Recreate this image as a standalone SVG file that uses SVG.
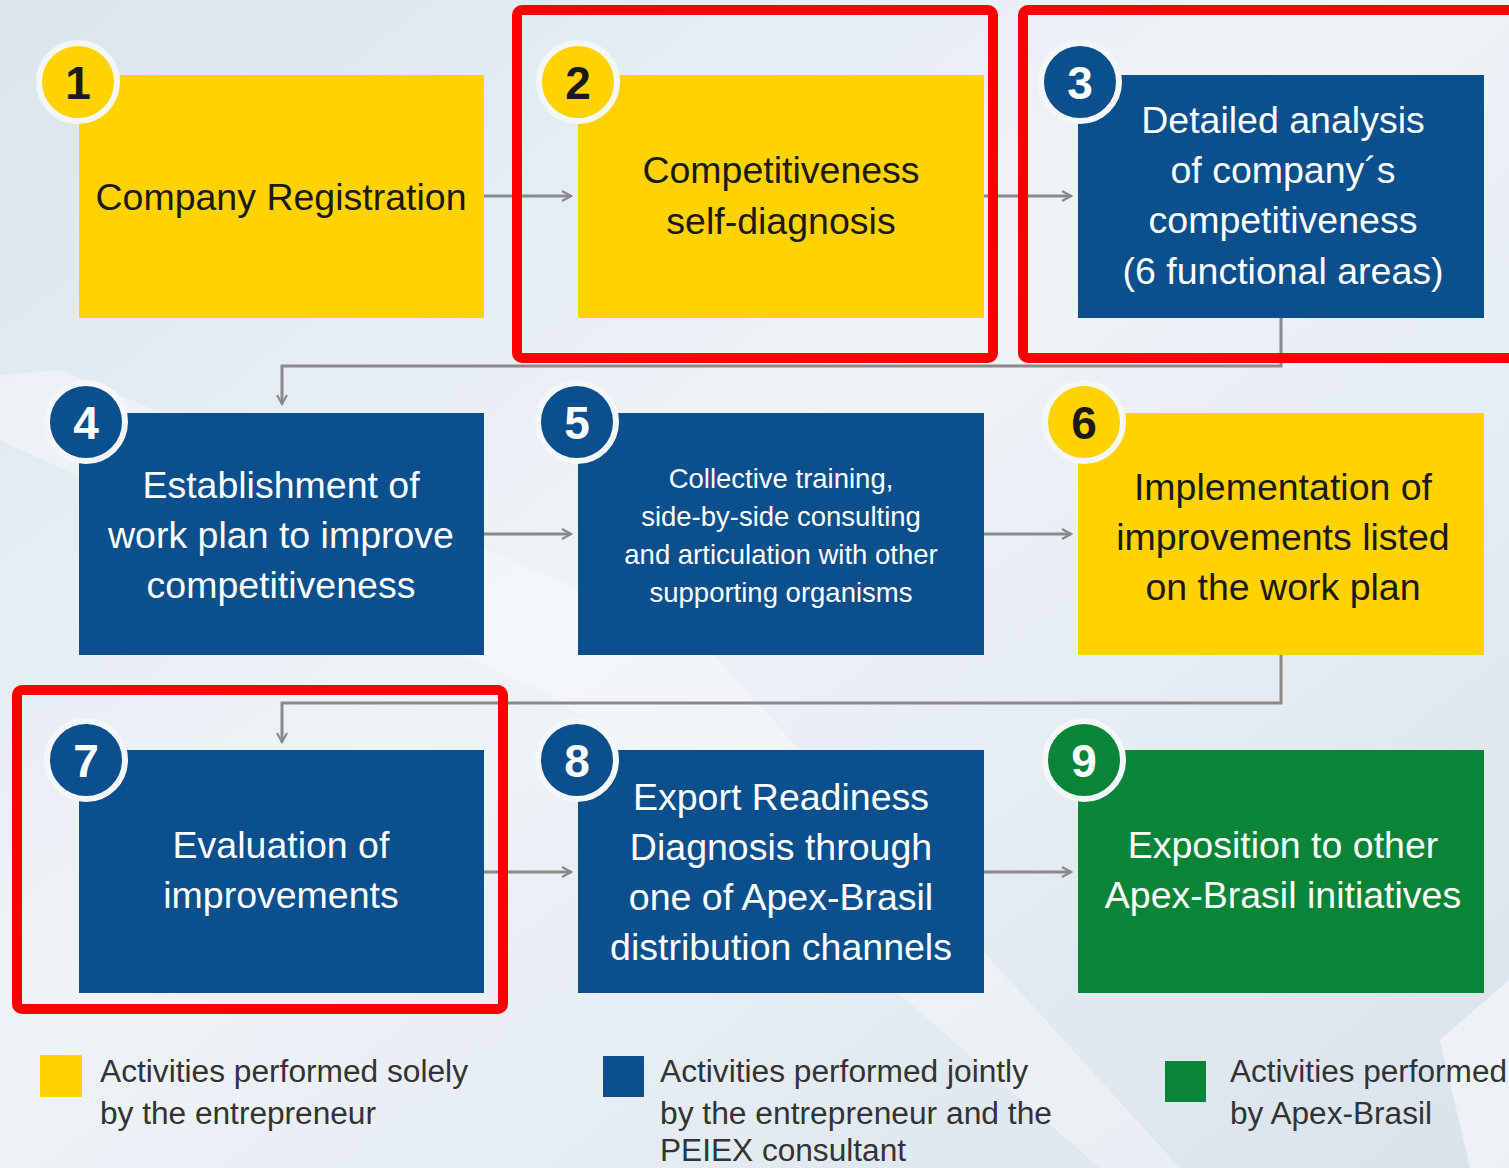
<svg xmlns="http://www.w3.org/2000/svg" width="1509" height="1168" viewBox="0 0 1509 1168">
<defs>
<linearGradient id="bg" x1="0" y1="0" x2="1" y2="1">
<stop offset="0" stop-color="#dbe5ed"/>
<stop offset="0.45" stop-color="#eef3f7"/>
<stop offset="1" stop-color="#d9e3ec"/>
</linearGradient>
<marker id="arr" viewBox="0 0 12 12" refX="10" refY="6" markerWidth="12" markerHeight="12" markerUnits="userSpaceOnUse" orient="auto">
<path d="M1,1 L10,6 L1,11" fill="none" stroke="#8a8a8a" stroke-width="2.2"/>
</marker>
<style>
.yel{fill:#FFD200}
.blu{fill:#0B4F8C}
.grn{fill:#0A8537}
.conn{fill:none;stroke:#8a8a8a;stroke-width:3}
.t{font-family:"Liberation Sans",Arial,sans-serif;font-size:37.5px;text-anchor:middle}
.dk{fill:#1a1a1a}
.wt{fill:#ffffff}
.num{font-family:"Liberation Sans",Arial,sans-serif;font-size:46px;font-weight:bold;text-anchor:middle}
.ring{stroke:#f4f7fa;stroke-width:6}
.hl{fill:none;stroke:#ff0000;stroke-width:10}
.lg{font-family:"Liberation Sans",Arial,sans-serif;font-size:31px;fill:#333333}
</style>
</defs>
<rect x="0" y="0" width="1509" height="1168" fill="url(#bg)"/>
<polygon points="0,375 60,370 700,640 1180,1168 1100,1168 560,700 0,440" fill="#ffffff" opacity="0.35"/>
<polygon points="1440,1040 1509,980 1509,1168 1470,1168" fill="#ffffff" opacity="0.5"/>

<g id="connectors">
<line class="conn" x1="484" y1="196" x2="571" y2="196" marker-end="url(#arr)"/>
<line class="conn" x1="984" y1="196" x2="1071" y2="196" marker-end="url(#arr)"/>
<polyline class="conn" points="1281,318 1281,366 282,366 282,404" marker-end="url(#arr)"/>
<line class="conn" x1="484" y1="534" x2="571" y2="534" marker-end="url(#arr)"/>
<line class="conn" x1="984" y1="534" x2="1071" y2="534" marker-end="url(#arr)"/>
<polyline class="conn" points="1281,655 1281,703 282,703 282,742" marker-end="url(#arr)"/>
<line class="conn" x1="484" y1="872" x2="571" y2="872" marker-end="url(#arr)"/>
<line class="conn" x1="984" y1="872" x2="1071" y2="872" marker-end="url(#arr)"/>
</g>

<g id="node1">
<rect class="yel" x="79" y="75" width="405" height="243"/>
<circle class="yel ring" cx="78" cy="82" r="39"/>
<text class="num dk" x="78" y="99">1</text>
<text class="t dk" x="281" y="210">Company Registration</text>
</g>
<g id="node2">
<rect class="yel" x="578" y="75" width="406" height="243"/>
<circle class="yel ring" cx="578" cy="82" r="39"/>
<text class="num dk" x="578" y="99">2</text>
<text class="t dk" x="781" y="183">Competitiveness</text>
<text class="t dk" x="781" y="234">self-diagnosis</text>
</g>
<g id="node3">
<rect class="blu" x="1078" y="75" width="406" height="243"/>
<circle class="blu ring" cx="1080" cy="82" r="39"/>
<text class="num wt" x="1080" y="99">3</text>
<text class="t wt" x="1283" y="133">Detailed analysis</text>
<text class="t wt" x="1283" y="183">of company´s</text>
<text class="t wt" x="1283" y="233">competitiveness</text>
<text class="t wt" x="1283" y="284">(6 functional areas)</text>
</g>
<g id="node4">
<rect class="blu" x="79" y="413" width="405" height="242"/>
<circle class="blu ring" cx="86" cy="422" r="39"/>
<text class="num wt" x="86" y="439">4</text>
<text class="t wt" x="281" y="498">Establishment of</text>
<text class="t wt" x="281" y="548">work plan to improve</text>
<text class="t wt" x="281" y="598">competitiveness</text>
</g>
<g id="node5">
<rect class="blu" x="578" y="413" width="406" height="242"/>
<circle class="blu ring" cx="577" cy="422" r="39"/>
<text class="num wt" x="577" y="439">5</text>
<text class="t wt" x="781" y="488" style="font-size:27.5px">Collective training,</text>
<text class="t wt" x="781" y="526" style="font-size:27.5px">side-by-side consulting</text>
<text class="t wt" x="781" y="564" style="font-size:27.5px">and articulation with other</text>
<text class="t wt" x="781" y="602" style="font-size:27.5px">supporting organisms</text>
</g>
<g id="node6">
<rect class="yel" x="1078" y="413" width="406" height="242"/>
<circle class="yel ring" cx="1084" cy="422" r="39"/>
<text class="num dk" x="1084" y="439">6</text>
<text class="t dk" x="1283" y="500">Implementation of</text>
<text class="t dk" x="1283" y="550">improvements listed</text>
<text class="t dk" x="1283" y="600">on the work plan</text>
</g>
<g id="node7">
<rect class="blu" x="79" y="750" width="405" height="243"/>
<circle class="blu ring" cx="86" cy="760" r="39"/>
<text class="num wt" x="86" y="777">7</text>
<text class="t wt" x="281" y="858">Evaluation of</text>
<text class="t wt" x="281" y="908">improvements</text>
</g>
<g id="node8">
<rect class="blu" x="578" y="750" width="406" height="243"/>
<circle class="blu ring" cx="577" cy="760" r="39"/>
<text class="num wt" x="577" y="777">8</text>
<text class="t wt" x="781" y="810">Export Readiness</text>
<text class="t wt" x="781" y="860">Diagnosis through</text>
<text class="t wt" x="781" y="910">one of Apex-Brasil</text>
<text class="t wt" x="781" y="960">distribution channels</text>
</g>
<g id="node9">
<rect class="grn" x="1078" y="750" width="406" height="243"/>
<circle class="grn ring" cx="1084" cy="760" r="39"/>
<text class="num wt" x="1084" y="777">9</text>
<text class="t wt" x="1283" y="858">Exposition to other</text>
<text class="t wt" x="1283" y="908">Apex-Brasil initiatives</text>
</g>

<g id="highlights">
<rect class="hl" x="517" y="10" width="476" height="348" rx="5"/>
<rect class="hl" x="1023" y="10" width="500" height="348" rx="5"/>
<rect class="hl" x="17" y="690" width="486" height="319" rx="5"/>
</g>

<g id="legend">
<rect class="yel" x="40" y="1055" width="42" height="42"/>
<text class="lg" x="100" y="1082" textLength="368" lengthAdjust="spacingAndGlyphs">Activities performed solely</text>
<text class="lg" x="100" y="1124" textLength="276" lengthAdjust="spacingAndGlyphs">by the entrepreneur</text>
<rect class="blu" x="603" y="1056" width="41" height="41"/>
<text class="lg" x="660" y="1082" textLength="368" lengthAdjust="spacingAndGlyphs">Activities performed jointly</text>
<text class="lg" x="660" y="1124" textLength="392" lengthAdjust="spacingAndGlyphs">by the entrepreneur and the</text>
<text class="lg" x="660" y="1161" textLength="246" lengthAdjust="spacingAndGlyphs">PEIEX consultant</text>
<rect class="grn" x="1165" y="1061" width="41" height="41"/>
<text class="lg" x="1230" y="1082" textLength="277" lengthAdjust="spacingAndGlyphs">Activities performed</text>
<text class="lg" x="1230" y="1124" textLength="202" lengthAdjust="spacingAndGlyphs">by Apex-Brasil</text>
</g>
</svg>
